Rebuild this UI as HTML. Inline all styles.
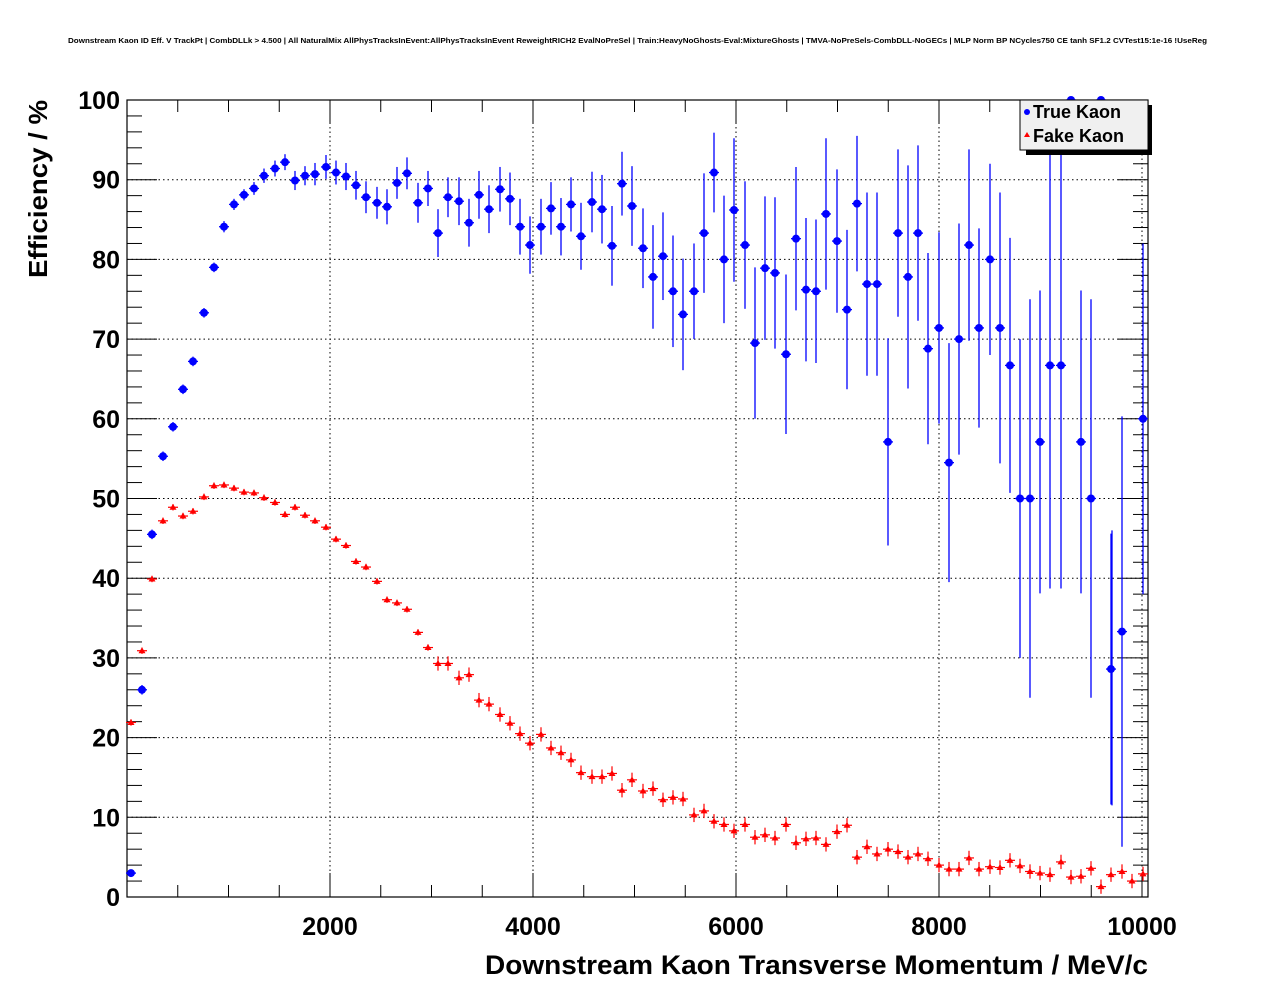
<!DOCTYPE html>
<html><head><meta charset="utf-8"><style>
html,body{margin:0;padding:0;background:#fff;}
svg{display:block;}
text{font-family:"Liberation Sans",sans-serif;}
</style></head><body>
<svg id="s" width="1276" height="996" xmlns="http://www.w3.org/2000/svg">
<rect width="1276" height="996" fill="#fff"/>
<text x="68" y="43" font-size="7.5" font-weight="bold" textLength="1139" lengthAdjust="spacingAndGlyphs">Downstream Kaon ID Eff. V TrackPt | CombDLLk &gt; 4.500 | All NaturalMix AllPhysTracksInEvent:AllPhysTracksInEvent ReweightRICH2 EvalNoPreSel | Train:HeavyNoGhosts-Eval:MixtureGhosts | TMVA-NoPreSels-CombDLL-NoGECs | MLP Norm BP NCycles750 CE tanh SF1.2 CVTest15:1e-16 !UseReg</text>
<g id="g"></g>
<text x="485" y="974" font-size="27" font-weight="bold" textLength="663" lengthAdjust="spacingAndGlyphs">Downstream Kaon Transverse Momentum / MeV/c</text>
<text transform="translate(47,278) rotate(-90)" font-size="26" font-weight="bold" textLength="178" lengthAdjust="spacingAndGlyphs">Efficiency / %</text>
</svg>
<script>
const g=document.getElementById('g');let h='';
const X0=127,XS=0.1015,Y0=897,YS=7.97,L=127,R=1148,T=100,B=897;
const Y=v=>Y0-v*YS;
for(let v=2000;v<=10000;v+=2000){const x=X0+v*XS;h+=`<line x1="${x}" y1="${T}" x2="${x}" y2="${B}" stroke="#000" stroke-dasharray="1.5,3" stroke-width="1"/>`;}
for(let v=10;v<=90;v+=10){h+=`<line x1="${L}" y1="${Y(v)}" x2="${R}" y2="${Y(v)}" stroke="#000" stroke-dasharray="1.5,3" stroke-width="1"/>`;}
for(let v=0;v<=100;v+=2){const y=Y(v),len=v%10==0?30:15;h+=`<line x1="${L}" y1="${y}" x2="${L+len}" y2="${y}" stroke="#000"/><line x1="${R}" y1="${y}" x2="${R-len}" y2="${y}" stroke="#000"/>`;}
for(let v=500;v<=10000;v+=500){const x=X0+v*XS,len=v%2000==0?24:12;h+=`<line x1="${x}" y1="${B}" x2="${x}" y2="${B-len}" stroke="#000"/><line x1="${x}" y1="${T}" x2="${x}" y2="${T+len}" stroke="#000"/>`;}
h+=`<rect x="${L}" y="${T}" width="${R-L}" height="${B-T}" fill="none" stroke="#000" stroke-width="1.2"/>`;
for(let v=0;v<=100;v+=10)h+=`<text x="120" y="${Y(v)+9}" font-size="25" font-weight="bold" text-anchor="end">${v}</text>`;
for(let v=2000;v<=10000;v+=2000)h+=`<text x="${X0+v*XS}" y="935" font-size="25" font-weight="bold" text-anchor="middle">${v}</text>`;
const blue=[[131,3,.4],[142,26,.6],[152,45.5,.6],[163,55.3,.6],[173,59,.6],[183,63.7,.6],[193,67.2,.6],[204,73.3,.6],[214,79,.6],[224,84.1,.7],[234,86.9,.7],[244,88.1,.7],[254,88.9,.8],[264,90.5,.9],[275,91.4,1],[285,92.2,1],[295,89.9,1.2],[305,90.5,1.2],[315,90.7,1.4],[326,91.6,1.5],[336,90.9,1.5],[346,90.4,1.7],[356,89.3,1.8],[366,87.8,2],[377,87.1,2],[387,86.6,2.2],[397,89.6,2],[407,90.8,2],[418,87.1,2.5],[428,88.9,2.2],[438,83.3,3],[448,87.8,2.5],[459,87.3,3],[469,84.6,3],[479,88.1,3],[489,86.3,3],[500,88.8,2.8],[510,87.6,3.3],[520,84.1,3.5],[530,81.8,3.6],[541,84.1,3.5],[551,86.4,3.3],[561,84.1,3.6],[571,86.9,3.4],[581,82.9,4.2],[592,87.2,3.8],[602,86.3,4.3],[612,81.7,5],[622,89.5,4],[632,86.7,5],[643,81.4,5],[653,77.8,6.5],[663,80.4,5.5],[673,76,7],[683,73.1,7],[694,76,6],[704,83.3,7.5],[714,90.9,5],[724,80,8],[734,86.2,9],[745,81.8,8],[755,69.5,9.5],[765,78.9,9],[775,78.3,9.5],[786,68.1,10],[796,82.6,9],[806,76.2,9],[816,76,9],[826,85.7,9.5],[837,82.3,9],[847,73.7,10],[857,87,8.5],[867,76.9,11.5],[877,76.9,11.5],[888,57.1,13],[898,83.3,10.5],[908,77.8,14],[918,83.3,11],[928,68.8,12],[939,71.4,12],[949,54.5,15],[959,70,14.5],[969,81.8,12],[979,71.4,12.5],[990,80,12],[1000,71.4,17],[1010,66.7,16],[1020,50,20],[1030,50,25],[1040,57.1,19],[1050,66.7,28],[1061,66.7,28],[1071,100,0],[1081,57.1,19],[1091,50,25],[1101,100,0],[1111,28.6,17],[1122,33.3,27],[1143,60,22]];
blue.forEach(([x,v,e])=>{const y=Y(v);if(e>0)h+=`<line x1="${x}" y1="${Math.max(T,Y(v+e))}" x2="${x}" y2="${Math.min(B,Y(v-e))}" stroke="#0000ff" stroke-width="1.3"/>`;
h+=`<line x1="${x-5}" y1="${y}" x2="${x+5}" y2="${y}" stroke="#0000ff" stroke-width="1.3"/><circle cx="${x}" cy="${y}" r="4" fill="#0000ff"/>`;});
h+=`<line x1="1112" y1="${Y(46)}" x2="1112" y2="${Y(11.5)}" stroke="#0000ff" stroke-width="1.3"/>`;
const red=[[131,21.9],[142,30.9],[152,39.9],[163,47.2],[173,48.9],[183,47.8],[193,48.4],[204,50.2],[214,51.6],[224,51.7],[234,51.3],[244,50.8],[254,50.7],[264,50.1],[275,49.5],[285,48],[295,48.9],[305,47.9],[315,47.2],[326,46.4],[336,44.9],[346,44.1],[356,42.1],[366,41.4],[377,39.6],[387,37.3],[397,36.9],[407,36.1],[418,33.2],[428,31.3],[438,29.3],[448,29.3],[459,27.5],[469,27.9],[479,24.7],[489,24.2],[500,22.9],[510,21.8],[520,20.5],[530,19.3],[541,20.4],[551,18.7],[561,18.1],[571,17.2],[581,15.6],[592,15.1],[602,15.1],[612,15.5],[622,13.4],[632,14.7],[643,13.3],[653,13.6],[663,12.2],[673,12.5],[683,12.3],[694,10.3],[704,10.8],[714,9.5],[724,9.1],[734,8.3],[745,9.1],[755,7.5],[765,7.8],[775,7.4],[786,9.1],[796,6.8],[806,7.3],[816,7.4],[826,6.6],[837,8.2],[847,9],[857,5],[867,6.3],[877,5.4],[888,6],[898,5.7],[908,5],[918,5.4],[928,4.8],[939,4],[949,3.5],[959,3.5],[969,4.9],[979,3.5],[990,3.8],[1000,3.7],[1010,4.6],[1020,3.9],[1030,3.2],[1040,3],[1050,2.8],[1061,4.4],[1071,2.5],[1081,2.6],[1091,3.6],[1101,1.3],[1111,2.8],[1122,3.2],[1132,2],[1143,2.9]];
red.forEach(([x,v],i)=>{const y=Y(v),e=i<30?0.4:0.9;h+=`<line x1="${x}" y1="${Y(v+e)}" x2="${x}" y2="${Y(v-e)}" stroke="#ff0000" stroke-width="1.2"/><line x1="${x-5}" y1="${y}" x2="${x+5}" y2="${y}" stroke="#ff0000" stroke-width="1.2"/><polygon points="${x},${y-3.5} ${x-3.5},${y+2.5} ${x+3.5},${y+2.5}" fill="#ff0000"/>`;});
h+=`<rect x="1026" y="105" width="126" height="50" fill="#000"/><rect x="1020" y="100" width="128" height="50" fill="#f0f0f0" stroke="#000" stroke-width="1"/>`;
h+=`<circle cx="1027" cy="112" r="3" fill="#0000ff"/><text x="1033" y="118" font-size="18" font-weight="bold">True Kaon</text>`;
h+=`<polygon points="1027,132 1024,137 1030,137" fill="#ff0000"/><text x="1033" y="142" font-size="18" font-weight="bold">Fake Kaon</text>`;
g.innerHTML=h;
</script>
</body></html>
